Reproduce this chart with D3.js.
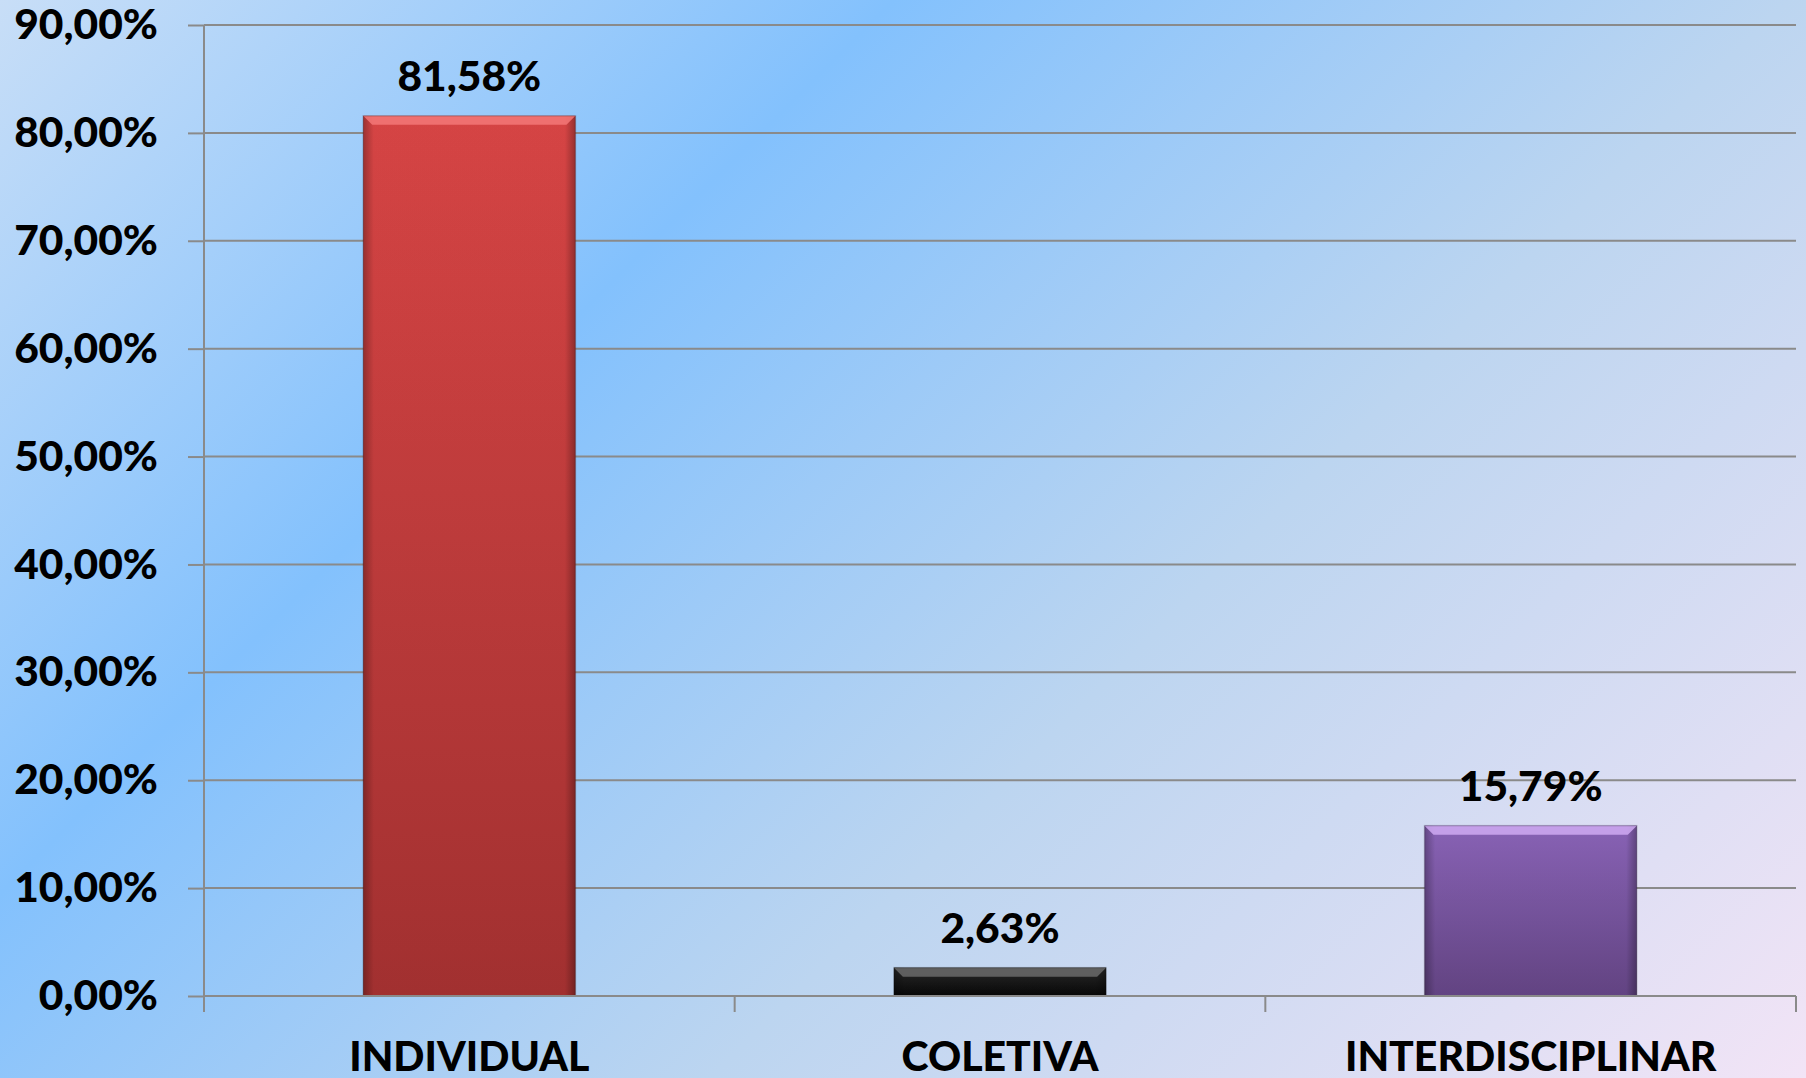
<!DOCTYPE html>
<html>
<head>
<meta charset="utf-8">
<script src="https://cdn.jsdelivr.net/npm/d3@7"></script>
<style>
  html, body { margin: 0; padding: 0; overflow: hidden; }
  svg text { font-family: Lato, "Open Sans", sans-serif; font-weight: 900; fill: #000; }
</style>
</head>
<body>
<svg id="chart" width="1806" height="1078"></svg>
<script>
// Chart data
var categories = ['INDIVIDUAL', 'COLETIVA', 'INTERDISCIPLINAR'];
var values = [81.58, 2.63, 15.79];
var yTicks = [0, 10, 20, 30, 40, 50, 60, 70, 80, 90];
var barTop = ['#de4747', '#2a2a2a', '#8d66bc'];
var barBottom = ['#a83232', '#070707', '#664687'];
var barShine = ['#f37878', '#6a6a6a', '#cfaaf2'];

var W = 1806, H = 1078;
var plot = { left: 204, right: 1796, top: 25, bottom: 996 };

var svg = d3.select('#chart');
var defs = svg.append('defs');

// Background gradient
var bg = defs.append('linearGradient')
    .attr('id', 'bg')
    .attr('gradientUnits', 'userSpaceOnUse')
    .attr('x1', 0).attr('y1', 0)
    .attr('x2', 1442).attr('y2', 1442);
bg.append('stop').attr('offset', 0).attr('stop-color', '#c8def7');
bg.append('stop').attr('offset', 0.31).attr('stop-color', '#83c1fd');
bg.append('stop').attr('offset', 0.62).attr('stop-color', '#bcd5f0');
bg.append('stop').attr('offset', 1).attr('stop-color', '#f2e4f6');

svg.append('rect')
    .attr('width', W).attr('height', H)
    .attr('fill', 'url(#bg)');

// Scales
var x = d3.scaleBand().domain(categories).range([plot.left, plot.right]).padding(0);
var y = d3.scaleLinear().domain([0, 90]).range([plot.bottom, plot.top]);
var barW = x.bandwidth() * 0.4;

// Gridlines
svg.append('g')
    .selectAll('line')
    .data(yTicks)
    .enter()
    .append('line')
    .attr('x1', plot.left).attr('x2', plot.right)
    .attr('y1', function(d) { return y(d); })
    .attr('y2', function(d) { return y(d); })
    .attr('stroke', '#8a8a8a')
    .attr('stroke-width', 2);

// Y axis
var yAxis = d3.axisLeft(y)
    .tickValues(yTicks)
    .tickSize(16)
    .tickPadding(30)
    .tickFormat(function(d) { return d3.format('.2f')(d).replace('.', ',') + '%'; });

var yG = svg.append('g')
    .attr('transform', 'translate(' + plot.left + ',0)')
    .call(yAxis);
yG.select('.domain').remove();
yG.append('line')
    .attr('x1', 0).attr('x2', 0)
    .attr('y1', plot.top).attr('y2', plot.bottom + 16)
    .attr('stroke', '#8a8a8a').attr('stroke-width', 2);
yG.selectAll('.tick line').attr('stroke', '#8a8a8a').attr('stroke-width', 2);
yG.selectAll('.tick text')
    .attr('font-size', 42.5)
    .attr('font-family', 'Lato, sans-serif')
    .attr('font-weight', 900)
    .attr('fill', '#000');

// X axis ticks at band boundaries
var bounds = categories.map(function(c) { return x(c) + x.bandwidth(); });
svg.append('g')
    .selectAll('line')
    .data(bounds)
    .enter()
    .append('line')
    .attr('x1', function(d) { return d; })
    .attr('x2', function(d) { return d; })
    .attr('y1', plot.bottom).attr('y2', plot.bottom + 16)
    .attr('stroke', '#8a8a8a').attr('stroke-width', 2);

// Category labels
svg.append('g')
    .selectAll('text')
    .data(categories)
    .enter()
    .append('text')
    .attr('x', function(d) { return x(d) + x.bandwidth() / 2; })
    .attr('y', 1071)
    .attr('text-anchor', 'middle')
    .attr('font-size', 41)
    .text(function(d) { return d; });

// Bar gradients
categories.forEach(function(c, i) {
    var g = defs.append('linearGradient')
        .attr('id', 'bar' + i)
        .attr('x1', 0).attr('y1', 0).attr('x2', 0).attr('y2', 1);
    g.append('stop').attr('offset', 0).attr('stop-color', barTop[i]);
    g.append('stop').attr('offset', 1).attr('stop-color', barBottom[i]);
});
var side = defs.append('linearGradient')
    .attr('id', 'side')
    .attr('x1', 0).attr('y1', 0).attr('x2', 1).attr('y2', 0);
side.append('stop').attr('offset', 0).attr('stop-color', '#000').attr('stop-opacity', 0.3);
side.append('stop').attr('offset', 0.05).attr('stop-color', '#000').attr('stop-opacity', 0.04);
side.append('stop').attr('offset', 0.95).attr('stop-color', '#000').attr('stop-opacity', 0.04);
side.append('stop').attr('offset', 1).attr('stop-color', '#000').attr('stop-opacity', 0.32);

// Bars
var bars = svg.append('g')
    .selectAll('g')
    .data(values)
    .enter()
    .append('g');

function bx(d, i) { return x(categories[i]) + (x.bandwidth() - barW) / 2; }

bars.append('rect')
    .attr('x', bx)
    .attr('y', function(d) { return y(d); })
    .attr('width', barW)
    .attr('height', function(d) { return y(0) - y(d); })
    .attr('fill', function(d, i) { return 'url(#bar' + i + ')'; });

bars.append('rect')
    .attr('x', bx)
    .attr('y', function(d) { return y(d); })
    .attr('width', barW)
    .attr('height', function(d) { return y(0) - y(d); })
    .attr('fill', 'url(#side)');

// Top bevel highlight
bars.append('polygon')
    .attr('points', function(d, i) {
        var x0 = bx(d, i), x1 = x0 + barW, t = y(d), b = 9;
        return [[x0, t], [x1, t], [x1 - b, t + b], [x0 + b, t + b]].join(' ');
    })
    .attr('fill', function(d, i) { return barShine[i]; })
    .attr('opacity', 0.85);

bars.append('rect')
    .attr('x', bx)
    .attr('y', function(d) { return y(d); })
    .attr('width', barW)
    .attr('height', function(d) { return y(0) - y(d); })
    .attr('fill', 'none')
    .attr('stroke', '#000')
    .attr('stroke-opacity', 0.18)
    .attr('stroke-width', 1.5);

// Baseline drawn over bars
svg.append('line')
    .attr('x1', plot.left).attr('x2', plot.right)
    .attr('y1', y(0)).attr('y2', y(0))
    .attr('stroke', '#8a8a8a').attr('stroke-width', 2);

// Value labels
svg.append('g')
    .selectAll('text')
    .data(values)
    .enter()
    .append('text')
    .attr('x', function(d, i) { return x(categories[i]) + x.bandwidth() / 2; })
    .attr('y', function(d) { return y(d) - 25; })
    .attr('text-anchor', 'middle')
    .attr('font-size', 42.5)
    .text(function(d) { return d3.format('.2f')(d).replace('.', ',') + '%'; });
</script>
</body>
</html>
